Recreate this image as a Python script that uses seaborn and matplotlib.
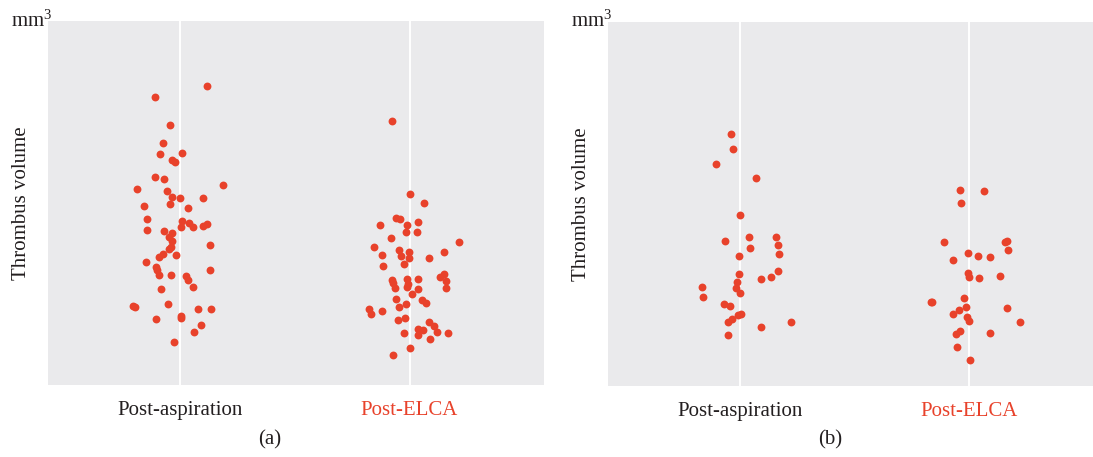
import numpy as np
import pandas as pd
import matplotlib
matplotlib.use("Agg")
import matplotlib.pyplot as plt
import seaborn as sns

# ---------------- data (volume in arbitrary units) ----------------
categories = ["Post-aspiration", "Post-ELCA"]

# Panel (a)
a_asp_jitter = [0.118, -0.109, -0.046, -0.076, -0.089, 0.006, -0.035, -0.024, -0.112, -0.072,
                -0.188, 0.185, -0.057, -0.038, -0.001, 0.098, -0.045, -0.160, 0.031, -0.148,
                0.006, 0.003, 0.039, 0.055, 0.098, 0.118, -0.144, -0.070, -0.038, -0.048,
                -0.036, -0.042, -0.052, 0.128, -0.019, -0.077, -0.092, -0.150, -0.107, -0.103,
                -0.094, -0.042, 0.025, 0.031, 0.128, 0.054, -0.083, -0.208, -0.199, -0.055,
                0.076, 0.135, -0.105, 0.004, 0.003, 0.090, 0.060, -0.029]
a_asp_volume = [299.0, 287.4, 259.4, 241.4, 230.4, 231.7, 224.4, 223.0, 207.7, 205.4,
                196.0, 199.7, 194.0, 187.4, 186.7, 186.4, 181.0, 178.7, 176.7, 166.0,
                164.0, 157.4, 161.4, 158.0, 159.0, 161.0, 154.4, 153.4, 151.7, 148.0,
                143.7, 138.0, 135.4, 139.4, 129.4, 130.4, 128.0, 122.4, 118.0, 114.7,
                109.7, 109.4, 108.4, 105.0, 114.4, 98.0, 95.4, 78.7, 78.0, 80.7,
                75.7, 76.0, 65.7, 69.0, 67.0, 59.7, 53.0, 42.4]
a_elca_jitter = [-0.077, 0.004, 0.062, -0.057, -0.042, 0.038, -0.128, -0.012, -0.015, 0.031,
                 -0.080, 0.215, -0.157, -0.044, -0.002, 0.150, -0.118, -0.039, -0.004, 0.086,
                 -0.114, -0.026, 0.150, 0.131, -0.076, -0.012, 0.036, -0.072, -0.007, 0.159,
                 -0.063, -0.010, 0.038, 0.160, 0.011, -0.060, 0.055, 0.072, -0.016, -0.047,
                 -0.175, -0.168, -0.120, -0.052, -0.019, 0.084, 0.107, 0.035, 0.061, 0.122,
                 0.166, -0.024, 0.036, 0.090, 0.003, -0.073]
a_elca_volume = [263.7, 190.7, 181.7, 166.4, 165.7, 162.7, 159.4, 159.4, 153.0, 153.0,
                 146.4, 142.7, 138.0, 134.7, 132.7, 132.4, 129.4, 128.7, 126.7, 127.0,
                 119.0, 120.4, 110.7, 107.4, 105.0, 105.7, 105.7, 101.4, 101.0, 103.4,
                 97.0, 97.4, 95.4, 97.0, 90.7, 85.7, 84.4, 82.0, 80.4, 77.7,
                 75.4, 70.7, 73.4, 65.0, 67.0, 63.0, 59.0, 56.0, 55.0, 52.4,
                 51.7, 51.4, 49.4, 45.4, 36.4, 29.7]

# Panel (b)
b_asp_jitter = [-0.041, -0.033, -0.107, 0.067, 0.000, 0.039, 0.156, -0.068, 0.165, 0.042,
                0.170, -0.007, 0.165, -0.006, 0.134, 0.090, -0.013, -0.169, -0.020, -0.001,
                -0.163, -0.070, -0.046, -0.010, 0.003, -0.038, -0.055, 0.221, 0.089, -0.054]
b_asp_volume = [251.7, 237.0, 221.4, 207.7, 171.0, 148.7, 148.4, 144.7, 140.7, 137.4,
                132.0, 130.0, 115.0, 111.7, 108.4, 106.4, 103.7, 98.7, 97.7, 93.0,
                88.7, 82.0, 80.0, 71.0, 72.0, 66.4, 63.4, 63.4, 58.4, 51.0]
b_elca_jitter = [-0.042, 0.066, -0.035, -0.109, 0.155, 0.163, 0.170, -0.007, 0.039, 0.090,
                 -0.070, -0.007, 0.000, 0.041, 0.132, -0.022, -0.169, -0.165, -0.015, -0.047,
                 0.163, -0.072, -0.012, -0.002, 0.220, -0.039, -0.059, 0.089, -0.055, 0.001]
b_elca_volume = [195.7, 195.0, 182.7, 143.7, 143.7, 145.0, 135.7, 132.7, 129.4, 128.4,
                 125.7, 112.7, 109.0, 108.0, 110.0, 88.0, 84.0, 83.4, 78.4, 76.0,
                 77.7, 71.4, 69.0, 64.7, 63.7, 55.0, 51.4, 52.7, 39.0, 26.0]

# ---------------- style ----------------
RED = "#E8422B"
TXT = "#231F20"
BG = "#EAEAEC"

sns.set_theme(style="darkgrid", rc={"axes.facecolor": BG, "grid.color": "white",
                                    "grid.linewidth": 1.4})
plt.rcParams["font.family"] = ["Liberation Serif", "DejaVu Serif"]
plt.rcParams["mathtext.fontset"] = "custom"
plt.rcParams["mathtext.rm"] = "Liberation Serif"
plt.rcParams["mathtext.it"] = "Liberation Serif"


def make_df(j0, v0, j1, v1):
    frames = []
    for idx, (jit, vol) in enumerate([(j0, v0), (j1, v1)]):
        frames.append(pd.DataFrame({"group": categories[idx],
                                    "pos": idx + np.asarray(jit),
                                    "volume": vol}))
    return pd.concat(frames, ignore_index=True)


df_a = make_df(a_asp_jitter, a_asp_volume, a_elca_jitter, a_elca_volume)
df_b = make_df(b_asp_jitter, b_asp_volume, b_elca_jitter, b_elca_volume)

W, H = 1093, 457
fig = plt.figure(figsize=(W / 100, H / 100), dpi=100)
ax_a = fig.add_axes([48 / W, (H - 384.7) / H, 496 / W, 364 / H])
ax_b = fig.add_axes([608 / W, (H - 385.7) / H, 485 / W, 364 / H])

FS = 15
for ax, df, xl, cap, capx in [(ax_a, df_a, (-0.578, 1.587), "(a)", 270),
                              (ax_b, df_b, (-0.578, 1.540), "(b)", 830)]:
    sns.scatterplot(data=df, x="pos", y="volume", ax=ax, color=RED, s=32,
                    linewidth=0, legend=False, zorder=3)
    ax.set_xlim(*xl)
    ax.set_ylim(0, 364)
    ax.set_xticks([0, 1])
    ax.set_xticklabels(categories, fontsize=FS)
    ax.get_xticklabels()[0].set_color(TXT)
    ax.get_xticklabels()[1].set_color(RED)
    ax.tick_params(axis="x", length=0, pad=12)
    ax.set_yticks([])
    ax.grid(axis="y", visible=False)
    ax.grid(axis="x", visible=True)
    ax.set_xlabel("")
    ax.set_ylabel("Thrombus volume", fontsize=FS, color=TXT, labelpad=12)
    for sp in ax.spines.values():
        sp.set_visible(False)
    fig.text(capx / W, 1 - 440 / H, cap, ha="center", va="center", fontsize=FS, color=TXT)

fig.text(11 / W, 1 - 27 / H, "mm$^{3}$", ha="left", va="baseline", fontsize=FS, color=TXT)
fig.text(571 / W, 1 - 27 / H, "mm$^{3}$", ha="left", va="baseline", fontsize=FS, color=TXT)

fig.savefig("out.png", dpi=100)
